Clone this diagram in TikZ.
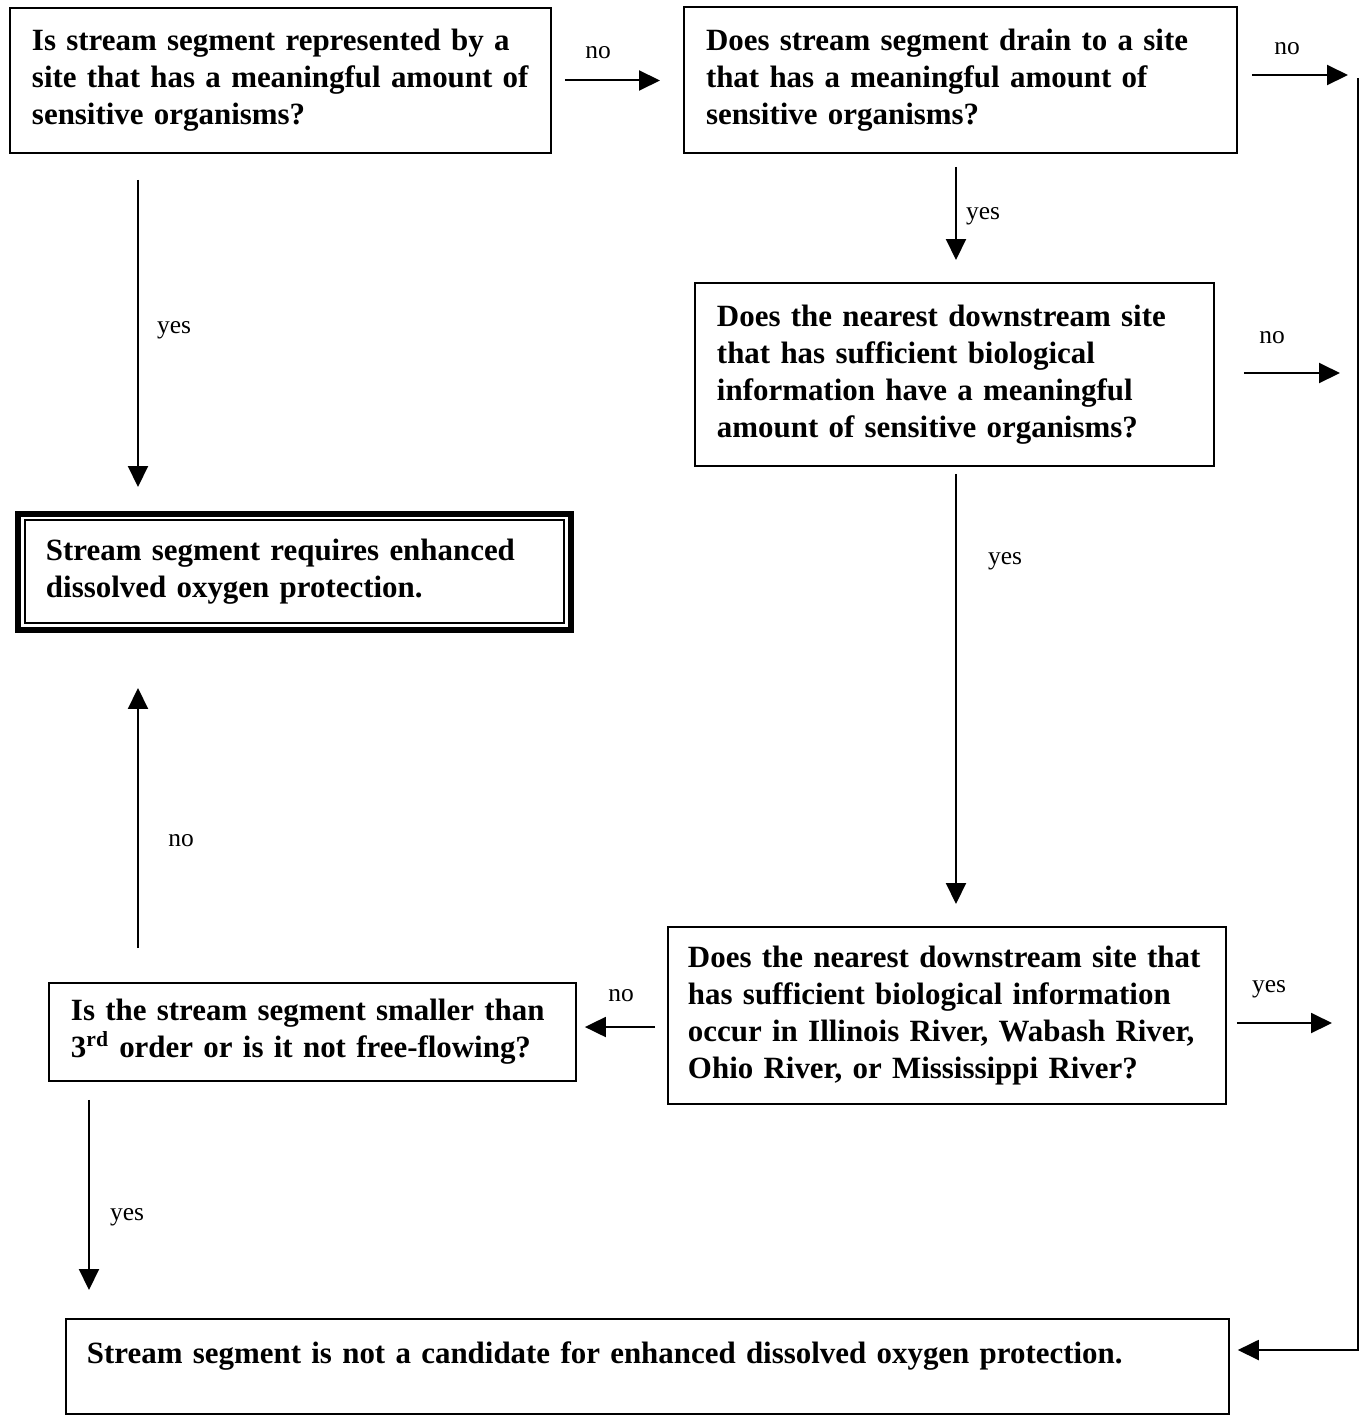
\documentclass[tikz,border=0pt]{standalone}
\usepackage{fontspec}
\setmainfont{Liberation Serif}
\usetikzlibrary{arrows.meta,calc}

\begin{document}
\begin{tikzpicture}[x=0.02cm,y=-0.02cm,>={Triangle[length=0.42cm,width=0.4cm]}]

  \tikzstyle{question}=[draw,line width=0.04cm,anchor=north west,align=left,
                        inner xsep=0.44cm,font=\fontsize{17.6}{21}\selectfont\bfseries]
  \tikzstyle{answer}=[font=\fontsize{14.5}{17}\selectfont]
  \tikzstyle{flow}=[->,line width=0.04cm]

  \useasboundingbox (0,0) rectangle (1364,1418);

  % Boxes
  \node [question,text width=9.94cm,minimum height=2.9cm] (site) at (9,7)
    {Is stream segment represented by a\\site that has a meaningful amount of\\sensitive organisms?};
  \node [question,text width=10.18cm,minimum height=2.92cm] (drain) at (683,6)
    {Does stream segment drain to a site\\that has a meaningful amount of\\sensitive organisms?};
  \node [question,text width=9.5cm,minimum height=3.66cm] (near) at (694,282)
    {Does the nearest downstream site\\that has sufficient biological\\information have a meaningful\\amount of sensitive organisms?};
  \node [question,text width=9.94cm,minimum height=2.06cm,inner xsep=0.42cm] (enhanced) at (24,519)
    {Stream segment requires enhanced\\dissolved oxygen protection.};
  \node [question,text width=10.36cm,minimum height=3.54cm,inner xsep=0.4cm] (river) at (667,926)
    {Does the nearest downstream site that\\has sufficient biological information\\occur in Illinois River, Wabash River,\\Ohio River, or Mississippi River?};
  \node [question,text width=9.66cm,minimum height=1.96cm] (smaller) at (48,982)
    {Is the stream segment smaller than\\3\textsuperscript{rd} order or is it not free-flowing?};
  \node [question,text width=22.42cm,inner ysep=0pt,text height=0.88cm,text depth=1.02cm,
         inner xsep=0.42cm] (none) at (65,1318)
    {Stream segment is not a candidate for enhanced dissolved oxygen protection.};

  % heavy outer frame
  \draw [line width=0.12cm] ($(enhanced.north west)+(-6,-5)$) rectangle ($(enhanced.south east)+(6,6)$);

  % Helper coordinates
  \coordinate (colA) at (138,0);
  \coordinate (colB) at (956,0);
  \coordinate (colE) at (89,0);
  \coordinate (rowD) at (0,1027);
  \coordinate (r1) at (1348,75);
  \coordinate (r2) at (1340,373);
  \coordinate (r3) at (1332,1023);
  \coordinate (rtop) at (1358,78);
  \coordinate (rbot) at (1358,1350);

  % Connectors
  \draw [flow,shorten <=0.26cm,shorten >=0.46cm] (site.east) -- (site.east -| drain.west);
  \draw [flow,shorten <=0.28cm] (drain.east |- r1) -- (r1);
  \draw [flow,shorten <=0.26cm,shorten >=0.44cm] (drain.south -| colB) -- (near.north -| colB);
  \draw [flow,shorten <=0.58cm] (near.east |- r2) -- (r2);
  \draw [flow,shorten <=0.14cm,shorten >=0.44cm] (near.south -| colB) -- (river.north -| colB);
  \draw [flow,shorten <=0.52cm,shorten >=0.64cm] (site.south -| colA) -- (enhanced.north -| colA);
  \draw [flow,shorten <=0.68cm,shorten >=1.28cm] (smaller.north -| colA) -- (enhanced.south -| colA);
  \draw [flow,shorten <=0.24cm,shorten >=0.16cm] (river.west |- rowD) -- (smaller.east |- rowD);
  \draw [flow,shorten <=0.2cm] (river.east |- r3) -- (r3);
  \draw [flow,shorten <=0.36cm,shorten >=0.56cm] (smaller.south -| colE) -- (none.north -| colE);
  \draw [flow,shorten >=0.16cm] (rtop) -- (rbot) -- (rbot -| none.east);

  % Labels
  \node [answer] (l1) at (598,53) {no};
  \node [answer] (l2) at (1287,49) {no};
  \node [answer] (l3) at (983,216) {yes};
  \node [answer] (l4) at (1272,338) {no};
  \node [answer] (l5) at (174,330) {yes};
  \node [answer] (l6) at (1005,561) {yes};
  \node [answer] (l7) at (181,841) {no};
  \node [answer] (l8) at (621,996) {no};
  \node [answer] (l9) at (1269,989) {yes};
  \node [answer] (l10) at (127,1217) {yes};
\end{tikzpicture}
\end{document}
